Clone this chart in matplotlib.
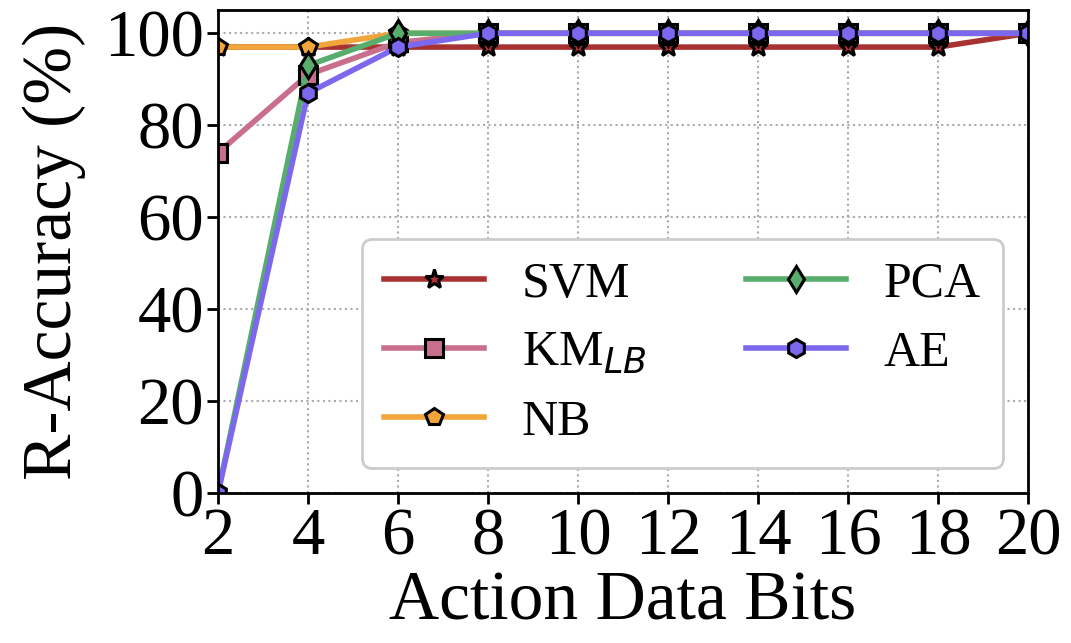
"""R-Accuracy vs. action data bits for the five detectors."""

import matplotlib
matplotlib.use('Agg')
import matplotlib.pyplot as plt

BITS = [2, 4, 6, 8, 10, 12, 14, 16, 18, 20]
SVM = [97, 97, 97, 97, 97, 97, 97, 97, 97, 100]
KM_LB = [74, 91, 98, 100, 100, 100, 100, 100, 100, 100]
NB = [97, 97, 100, 100, 100, 100, 100, 100, 100, 100]
PCA = [0, 93, 100, 100, 100, 100, 100, 100, 100, 100]
AE = [0, 87, 97, 100, 100, 100, 100, 100, 100, 100]

SERIES = [
    ('SVM', SVM, '#a83232', '*'),
    ('KM$_{LB}$', KM_LB, '#c96f8d', 's'),
    ('NB', NB, '#f2a53a', 'p'),
    ('PCA', PCA, '#58ad6c', 'd'),
    ('AE', AE, '#7b68ee', 'h'),
]


def main():
    plt.rcParams['font.family'] = ['Liberation Serif', 'DejaVu Serif']
    plt.rcParams['mathtext.fontset'] = 'dejavusans'

    fig = plt.figure(figsize=(10.71, 6.43), dpi=100)
    ax = fig.add_axes([0.2035, 0.233, 0.7565, 0.751])

    for label, vals, color, marker in SERIES:
        ms = 14 if marker == '*' else 13
        ax.plot(BITS, vals, color=color, lw=4, marker=marker, ms=ms,
                mfc=color, mec='black', mew=2.2, label=label)

    ax.set_xlim(2, 20)
    ax.set_ylim(0, 105)
    ax.set_xticks(BITS)
    ax.set_yticks([0, 20, 40, 60, 80, 100])
    ax.tick_params(labelsize=48, length=8, width=2, pad=2)
    ax.grid(True, linestyle=':', color='#aaaaaa', lw=1.5)
    for sp in ax.spines.values():
        sp.set_linewidth(2)

    ax.set_xlabel('Action Data Bits', fontsize=50, labelpad=2)
    ax.set_ylabel('R-Accuracy (%)', fontsize=50, labelpad=13)

    leg = ax.legend(ncol=2, fontsize=36, loc='lower right',
                    bbox_to_anchor=(0.969, 0.052), borderaxespad=0,
                    handlelength=2.0, columnspacing=2.0, framealpha=1,
                    edgecolor='#cccccc', handletextpad=0.75,
                    labelspacing=0.45, borderpad=0.45)
    leg.get_frame().set_linewidth(2)

    fig.savefig('out.png', dpi=100)
    plt.close(fig)


if __name__ == '__main__':
    main()
